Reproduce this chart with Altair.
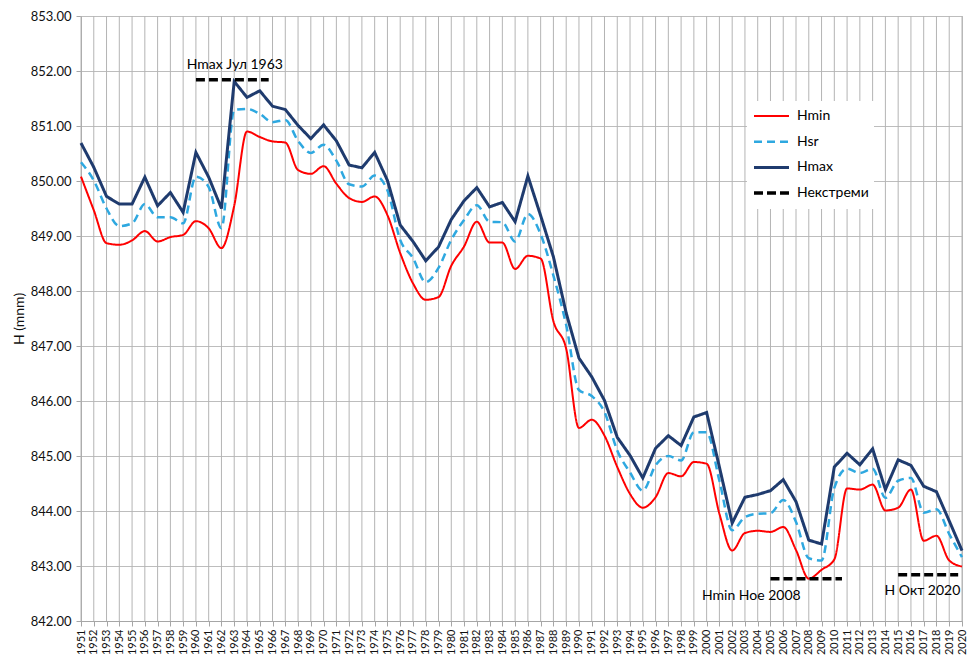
import altair as alt
import pandas as pd

years = list(range(1951, 2021))

hmax = [850.69, 850.25, 849.72, 849.58, 849.58, 850.07, 849.55, 849.79, 849.43, 850.52,
        850.07, 849.50, 851.81, 851.52, 851.64, 851.36, 851.30, 851.01, 850.77, 851.02,
        850.73, 850.29, 850.24, 850.52, 850.01, 849.20, 848.90, 848.55, 848.80, 849.30,
        849.64, 849.88, 849.53, 849.61, 849.26, 850.09, 849.37, 848.62, 847.60, 846.78,
        846.44, 846.01, 845.34, 845.01, 844.60, 845.14, 845.37, 845.19, 845.71, 845.79,
        844.80, 843.78, 844.25, 844.30, 844.37, 844.57, 844.17, 843.47, 843.40, 844.80,
        845.05, 844.84, 845.13, 844.39, 844.93, 844.83, 844.45, 844.35, 843.82, 843.28]

hsr = [850.34, 850.01, 849.50, 849.18, 849.23, 849.58, 849.34, 849.34, 849.23, 850.08,
       849.89, 849.14, 851.29, 851.31, 851.22, 851.07, 851.11, 850.73, 850.51, 850.66,
       850.37, 849.94, 849.90, 850.10, 849.83, 848.93, 848.60, 848.16, 848.42, 848.93,
       849.29, 849.56, 849.26, 849.25, 848.90, 849.40, 849.03, 848.28, 847.38, 846.20,
       846.09, 845.80, 845.10, 844.70, 844.37, 844.83, 845.00, 844.92, 845.43, 845.43,
       844.55, 843.65, 843.89, 843.95, 843.96, 844.20, 843.80, 843.14, 843.10, 844.42,
       844.77, 844.69, 844.77, 844.24, 844.55, 844.60, 843.97, 844.03, 843.58, 843.16]

hmin = [850.08, 849.47, 848.87, 848.84, 848.92, 849.09, 848.90, 848.98, 849.02, 849.27,
        849.14, 848.78, 849.55, 850.90, 850.80, 850.72, 850.70, 850.20, 850.13, 850.27,
        849.95, 849.69, 849.62, 849.72, 849.38, 848.69, 848.14, 847.84, 847.89, 848.46,
        848.81, 849.26, 848.88, 848.88, 848.40, 848.64, 848.59, 847.45, 846.95, 845.51,
        845.66, 845.37, 844.80, 844.31, 844.06, 844.25, 844.69, 844.63, 844.89, 844.86,
        843.95, 843.28, 843.60, 843.64, 843.62, 843.71, 843.29, 842.77, 842.93, 843.12,
        844.41, 844.39, 844.48, 844.01, 844.06, 844.39, 843.46, 843.55, 843.10, 842.99]

series_names = ["Hmin", "Hsr", "Hmax", "Некстреми"]
series_colors = ["#FF0000", "#2EA8E0", "#1F3B6E", "#000000"]
series_dashes = [[1, 0], [8, 5], [1, 0], [9, 4]]

ann_x1 = [1960.0, 2005.0, 2015.0]
ann_x2 = [1965.7, 2010.6, 2019.7]
ann_y = [851.84, 842.77, 842.84]

label_texts = ["Hmax Јул 1963", "Hmin Ное 2008", "H Окт 2020"]
label_x = [1963.05, 2003.5, 2016.9]
label_y = [852.11, 842.45, 842.54]

y_ticks = [842, 843, 844, 845, 846, 847, 848, 849, 850, 851, 852, 853]

rows = []
for name, vals in (("Hmin", hmin), ("Hsr", hsr), ("Hmax", hmax)):
    for yr, v in zip(years, vals):
        rows.append({"year": yr, "H": v, "series": name})
df = pd.DataFrame(rows)

grid_df = pd.DataFrame({"year": years})
ann = pd.DataFrame({"x1": ann_x1, "x2": ann_x2, "y": ann_y,
                    "series": ["Некстреми"] * 3})
labels = pd.DataFrame({"x": label_x, "y": label_y, "text": label_texts})

xscale = alt.Scale(domain=[1951, 2020], nice=False, zero=False)
yscale = alt.Scale(domain=[842, 853], nice=False, zero=False)

xaxis = alt.Axis(values=years, tickCount=len(years), format="d", labelAngle=270,
                 labelFontSize=11, labelPadding=3, tickSize=5, title=None,
                 labelOverlap=False, labelBound=False, labelFlush=False, grid=False)
yaxis = alt.Axis(values=y_ticks, tickCount=len(y_ticks), format=".2f", labelFontSize=13,
                 tickSize=5, labelPadding=5, title="H (mnm)", titleFontSize=14,
                 titleFontWeight="normal", titlePadding=4, grid=True)


def make_legend():
    return alt.Legend(title=None, orient="none", legendX=666, legendY=85,
                      symbolType="stroke", symbolSize=1225,
                      clipHeight=20, rowPadding=5.7,
                      labelFontSize=14, labelOffset=6, padding=5,
                      fillColor="white", labelColor="#000000")


color = alt.Color("series:N",
                  scale=alt.Scale(domain=series_names, range=series_colors),
                  legend=make_legend())
dash = alt.StrokeDash("series:N",
                      scale=alt.Scale(domain=series_names, range=series_dashes),
                      legend=make_legend())
width_enc = alt.StrokeWidth("series:N",
                            scale=alt.Scale(type="point", domain=series_names,
                                            range=[2, 3.5], padding=0),
                            legend=make_legend())

vgrid = alt.Chart(grid_df).mark_rule(color="#B4B4B4", strokeWidth=1).encode(
    x=alt.X("year:Q", scale=xscale, axis=xaxis),
)

base = alt.Chart(df)

smooth = base.transform_filter(
    alt.FieldOneOfPredicate(field="series", oneOf=["Hmin", "Hsr"])
).mark_line(interpolate="monotone").encode(
    x=alt.X("year:Q", scale=xscale, axis=xaxis),
    y=alt.Y("H:Q", scale=yscale, axis=yaxis),
    color=color, strokeDash=dash, strokeWidth=width_enc,
    detail="series:N",
)

straight = base.transform_filter(
    alt.FieldEqualPredicate(field="series", equal="Hmax")
).mark_line(interpolate="linear", strokeJoin="miter").encode(
    x=alt.X("year:Q", scale=xscale, axis=xaxis),
    y=alt.Y("H:Q", scale=yscale, axis=yaxis),
    color=color, strokeDash=dash, strokeWidth=width_enc,
)

rules = alt.Chart(ann).mark_rule(strokeCap="butt").encode(
    x=alt.X("x1:Q", scale=xscale, axis=xaxis),
    x2="x2:Q",
    y=alt.Y("y:Q", scale=yscale, axis=yaxis),
    color=color, strokeDash=dash, strokeWidth=width_enc,
)

texts = alt.Chart(labels).mark_text(fontSize=14, color="#000000", baseline="middle",
                                    align="center").encode(
    x=alt.X("x:Q", scale=xscale, axis=xaxis),
    y=alt.Y("y:Q", scale=yscale, axis=yaxis),
    text="text:N",
)

chart = alt.layer(vgrid, smooth, straight, rules, texts).properties(
    width=881, height=605,
    autosize=alt.AutoSizeParams(type="none"),
    padding={"left": 73, "top": 8, "right": 10, "bottom": 40},
).configure(font="Lato").configure_axis(
    gridColor="#BDBDBD", gridWidth=1, domainColor="#A6A6A6", tickColor="#A6A6A6",
    labelColor="#111111", titleColor="#111111", labelFont="Lato", titleFont="Lato",
).configure_view(stroke="#BDBDBD")

chart.save("out.html", embed_options={"renderer": "svg", "actions": False})
